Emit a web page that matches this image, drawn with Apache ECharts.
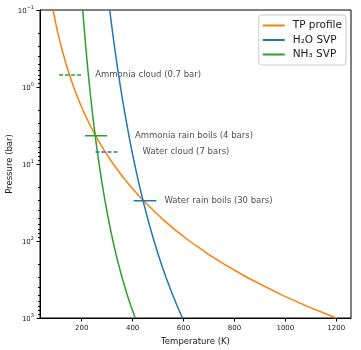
<!DOCTYPE html>
<html><head><meta charset="utf-8">
<script src="https://cdn.jsdelivr.net/npm/echarts@6/dist/echarts.min.js"></script>
<style>html,body{margin:0;padding:0;background:#fff}#c{width:361px;height:350px}</style>
</head><body><div id="c"></div>
<script>
// ---- data ----
const pressures = [0.1,0.15,0.2,0.3,0.5,0.7,1,1.5,2,3,4,5,7,10,15,20,30,50,70,100,150,200,300,500,700,1000];
const tpProfile = [87.3,98.0,106.4,119.4,138.0,151.9,168.1,188.7,204.8,229.8,249.5,265.8,292.5,323.8,363.3,394.3,442.5,511.7,563.2,623.2,699.5,759.2,852.0,985.2,1084.1,1200];
const h2oSVP = [310.0,316.7,321.6,328.8,338.3,344.9,352.2,360.8,367.2,376.7,383.7,389.2,398.0,407.7,419.4,428.1,440.9,458.2,470.4,484.1,500.6,513.0,531.6,557.0,575.1,595.7];
const nh3SVP = [204.0,208.2,211.3,215.8,221.9,226.2,230.9,236.6,240.8,247.1,251.7,255.5,261.5,268.2,276.2,282.3,291.4,303.8,312.6,322.7,335.0,344.4,358.7,378.6,393.2,410.0];
const seriesNames = ['TP profile','H\u2082O SVP','NH\u2083 SVP'];

const annoLabels = ['Ammonia cloud (0.7 bar)','Ammonia rain boils (4 bars)','Water cloud (7 bars)','Water rain boils (30 bars)'];
const annoPressure = [0.7, 4.3, 7, 30];
const annoTStart = [111, 213, 254, 404];
const annoTEnd = [197, 300, 345, 493];
const annoTextT = [253, 409, 439, 525];

const xTicks = [200,400,600,800,1000,1200];
const yMajorTicks = [0.1,1,10,100,1000];
const yMinorTicks = [0.2,0.3,0.4,0.5,0.6,0.7,0.8,0.9,2,3,4,5,6,7,8,9,20,30,40,50,60,70,80,90,200,300,400,500,600,700,800,900];

// ---- styles ----
const FONT = 'DejaVu Sans';
const TXT = '#1a1a1a';
const colors = ['#ff7f0e','#1f77b4','#2ca02c'];
const annoColors = ['#2ca02c','#2ca02c','#1f77b4','#1f77b4'];
const annoDashed = [true,false,true,false];

const curves = [tpProfile,h2oSVP,nh3SVP];
const series = curves.map((arr,i)=>({
  name: seriesNames[i], type:'line', symbol:'none', smooth:false,
  data: arr.map((t,j)=>[t,pressures[j]]),
  lineStyle:{color:colors[i],width:1.5}, itemStyle:{color:colors[i]},
  z: 3
}));
annoPressure.forEach((p,i)=>{
  series.push({
    type:'line', symbol:'none', silent:true,
    data:[[annoTStart[i],p],[annoTEnd[i],p]],
    lineStyle:{color:annoColors[i],width:1.5,type:annoDashed[i]?[4,2]:'solid'},
    z:4
  });
});
series.push({
  type:'scatter', symbolSize:0, silent:true,
  data: annoLabels.map((s,i)=>({value:[annoTextT[i],annoPressure[i]],name:s})),
  label:{show:true,position:'right',distance:0,formatter:'{b}',
    fontFamily:FONT,fontSize:8.5,color:TXT}
});

const chart = echarts.init(document.getElementById('c'),null,{renderer:'canvas'});
chart.setOption({
  animation:false,
  backgroundColor:'#fff',
  grid:{left:40,right:10,top:10,bottom:32,containLabel:false,outerBoundsMode:'none',
    show:true,borderColor:'#000',borderWidth:1,backgroundColor:'transparent'},
  legend:{
    data:seriesNames, orient:'vertical', right:15, top:15,
    padding:[5,4,5,3], itemWidth:22, itemHeight:12, itemGap:3.5,
    itemStyle:{opacity:0},
    borderColor:'#ccc', borderWidth:1, borderRadius:3, backgroundColor:'rgba(255,255,255,0.85)',
    textStyle:{fontFamily:FONT,fontSize:10.5,color:TXT,padding:[0,0,0,3]}
  },
  xAxis:{
    type:'value', min:36, max:1258,
    name:'Temperature (K)', nameLocation:'middle', nameGap:18,
    nameTextStyle:{fontFamily:FONT,fontSize:8.5,color:TXT,verticalAlign:'top'},
    axisLine:{lineStyle:{color:'#000',width:1}},
    axisTick:{show:true,customValues:xTicks,length:3.5,lineStyle:{color:'#000'}},
    axisLabel:{customValues:xTicks,margin:7,fontFamily:FONT,fontSize:7,color:TXT,
      formatter:function(v){return String(v);}},
    splitLine:{show:false}
  },
  yAxis:[{
    type:'log', logBase:10, min:0.1, max:1000, inverse:true,
    name:'Pressure (bar)', nameLocation:'middle', nameGap:26, nameRotate:90, nameMoveOverlap:false,
    nameTextStyle:{fontFamily:FONT,fontSize:8.5,color:TXT},
    axisLine:{show:true,lineStyle:{color:'#000',width:1}},
    axisTick:{show:true,customValues:yMajorTicks,length:3.5,lineStyle:{color:'#000'}},
    axisLabel:{customValues:yMajorTicks,margin:6,
      formatter:function(v){const e=Math.round(Math.log10(v));return '{b|10}{s|'+(e<0?'\u2212'+(-e):e)+'}';},
      rich:{b:{fontFamily:FONT,fontSize:7,color:TXT,lineHeight:10,verticalAlign:'bottom'},
            s:{fontFamily:FONT,fontSize:5,color:TXT,lineHeight:10,verticalAlign:'top'}}},
    splitLine:{show:false}
  },{
    type:'log', logBase:10, min:0.1, max:1000, inverse:true, position:'left',
    axisLine:{show:false},
    axisTick:{show:true,customValues:yMinorTicks,length:2,lineStyle:{color:'#000'}},
    axisLabel:{show:false},
    splitLine:{show:false}
  }],
  series: series
});
</script></body></html>
